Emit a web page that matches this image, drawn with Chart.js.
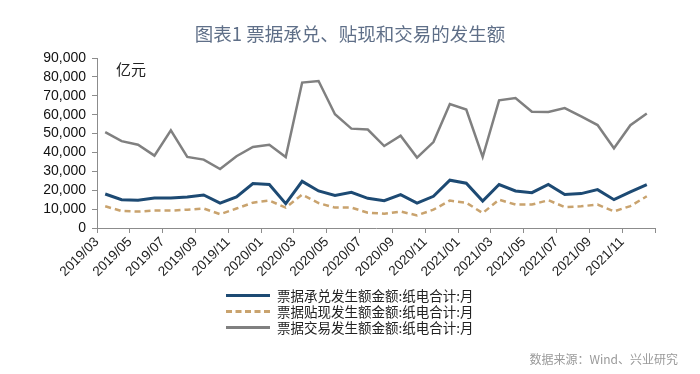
<!DOCTYPE html>
<html>
<head>
<meta charset="utf-8">
<script src="https://cdn.jsdelivr.net/npm/chart.js@4.4.1/dist/chart.umd.min.js"></script>
<style>
  html, body { margin: 0; padding: 0; background: #fff; }
  #wrap { position: relative; width: 700px; height: 374px; overflow: hidden; }
  #chart { position: absolute; left: 0; top: 0; }
  .title { position: absolute; left: 0; width: 700px; top: 20px; text-align: center;
    font-family: "Noto Sans CJK SC", sans-serif; font-size: 18.5px; color: #5f6f88; }
  .unit { position: absolute; left: 116px; top: 58px; font-family: "Noto Sans CJK SC", serif;
    font-size: 15px; color: #222; }
  .legend { position: absolute; left: 226px; top: 287px; font-family: "Noto Sans CJK SC", serif;
    font-size: 13.5px; color: #222; line-height: 16px; }
  .legend div { display: flex; align-items: center; }
  .legend span.sw { display: inline-block; width: 44px; height: 0; margin-right: 7px; }
  .source { position: absolute; right: 22px; top: 350px; font-family: "Noto Sans CJK SC", sans-serif;
    font-size: 12px; color: #9a9a9a; }
</style>
</head>
<body>
<div id="wrap">
  <canvas id="chart" width="700" height="374"></canvas>
  <div class="title">图表1 票据承兑、贴现和交易的发生额</div>
  <div class="unit">亿元</div>
  <div class="legend" id="legend"></div>
  <div class="source">数据来源：Wind、兴业研究</div>
</div>
<script>
// months 2019/03 .. 2021/12
const months = [
  '2019/03', '2019/04', '2019/05', '2019/06', '2019/07', '2019/08', '2019/09', '2019/10', '2019/11', '2019/12',
  '2020/01', '2020/02', '2020/03', '2020/04', '2020/05', '2020/06', '2020/07', '2020/08', '2020/09', '2020/10',
  '2020/11', '2020/12', '2021/01', '2021/02', '2021/03', '2021/04', '2021/05', '2021/06', '2021/07', '2021/08',
  '2021/09', '2021/10', '2021/11', '2021/12'
];

// 亿元
const acceptance = [
  18000, 15000, 14700, 15900, 15900, 16400, 17500, 13200, 16400, 23500,
  23000, 12900, 24700, 19600, 17200, 18900, 15700, 14500, 17700, 13200,
  16800, 25300, 23700, 14300, 23000, 19600, 18700, 23100, 17700, 18200,
  20300, 15000, 19100, 23000
];
const discount = [
  11500, 9000, 8700, 9200, 9200, 9700, 10300, 7300, 10300, 13400,
  14500, 10800, 17700, 13200, 10800, 10800, 8100, 7600, 8700, 6700,
  9700, 14500, 13400, 7900, 15000, 12400, 12400, 14700, 11100, 11500,
  12400, 8800, 11600, 16800
];
const trading = [
  50800, 46000, 44100, 38300, 51700, 37600, 36200, 31200, 38000, 42900,
  44100, 37600, 77000, 77800, 60200, 52600, 52100, 43400, 48900, 37300,
  45500, 65600, 62700, 37600, 67600, 68800, 61600, 61400, 63500, 59100,
  54500, 42200, 54400, 60600
];

const seriesNames = [
  '票据承兑发生额金额:纸电合计:月',
  '票据贴现发生额金额:纸电合计:月',
  '票据交易发生额金额:纸电合计:月'
];

const yTicks = [0, 10000, 20000, 30000, 40000, 50000, 60000, 70000, 80000, 90000];

const colors = ['#1d4a73', '#c9a36e', '#808080'];

function toPoints(arr) {
  return arr.map((v, i) => ({ x: i + 0.5, y: v }));
}

const legendEl = document.getElementById('legend');
seriesNames.forEach((name, i) => {
  const row = document.createElement('div');
  const sw = document.createElement('span');
  sw.className = 'sw';
  sw.style.borderTop = i === 1 ? '3px dashed ' + colors[i] : '3px solid ' + colors[i];
  row.appendChild(sw);
  row.appendChild(document.createTextNode(name));
  legendEl.appendChild(row);
});

const axisColor = '#8c8c8c';

new Chart(document.getElementById('chart'), {
  type: 'line',
  data: {
    datasets: [
      { label: seriesNames[0], data: toPoints(acceptance), borderColor: colors[0], borderWidth: 3 },
      { label: seriesNames[1], data: toPoints(discount), borderColor: colors[1], borderWidth: 2.5, borderDash: [6, 4] },
      { label: seriesNames[2], data: toPoints(trading), borderColor: colors[2], borderWidth: 2.5 }
    ]
  },
  options: {
    responsive: false,
    animation: false,
    elements: { point: { radius: 0 }, line: { tension: 0, fill: false } },
    layout: { padding: { top: 58, right: 45, left: 0, bottom: 0 } },
    plugins: { legend: { display: false }, tooltip: { enabled: false } },
    scales: {
      x: {
        type: 'linear',
        min: 0,
        max: 34,
        afterFit: s => { s.height = 146; },
        afterBuildTicks: s => { s.ticks = []; for (let v = 0; v <= 34; v += 2) s.ticks.push({ value: v }); },
        border: { color: axisColor, width: 1 },
        grid: { drawOnChartArea: false, drawTicks: true, tickLength: 5, color: axisColor },
        ticks: {
          autoSkip: false,
          minRotation: 45,
          maxRotation: 45,
          padding: 1,
          color: '#222',
          font: { family: 'Liberation Sans', size: 13.5 },
          callback: v => months[v] || ''
        }
      },
      y: {
        min: 0,
        max: 90000,
        afterFit: s => { s.width = 97; },
        afterBuildTicks: s => { s.ticks = yTicks.map(v => ({ value: v })); },
        border: { color: axisColor, width: 1 },
        grid: { drawOnChartArea: false, drawTicks: true, tickLength: 5, color: axisColor },
        ticks: {
          autoSkip: false,
          padding: 6,
          color: '#111',
          font: { family: 'Liberation Sans', size: 14 },
          callback: v => v.toLocaleString('en-US')
        }
      }
    }
  }
});
</script>
</body>
</html>
